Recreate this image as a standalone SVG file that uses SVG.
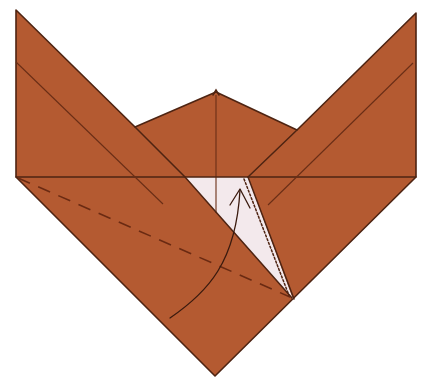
<svg xmlns="http://www.w3.org/2000/svg" width="427" height="382" viewBox="0 0 427 382">
  <style>
    .paper { fill: #b45a31; stroke: #4e2412; stroke-width: 1.6; stroke-linejoin: round; }
    .edge { fill: none; stroke: #4e2412; stroke-width: 1.5; stroke-linecap: round; }
    .crease { fill: none; stroke: #6a2e16; stroke-width: 1.1; }
    .valley { fill: none; stroke: #6a2a12; stroke-width: 1.6; stroke-dasharray: 13 9; }
    .inside { fill: #f3e9ec; stroke: none; }
    .move { fill: none; stroke: #3a1a0e; stroke-width: 1.3; stroke-linecap: round; stroke-linejoin: round; }
  </style>
  <rect width="427" height="382" fill="#ffffff"/>

  <!-- folded model silhouette -->
  <g id="model">
    <polygon class="paper" points="16,10 135,127 216,92 297,130 416,13 416,177 215,376 16,177"/>
  </g>

  <!-- opened pocket showing the paper's white side -->
  <g id="pocket">
    <polygon class="inside" points="185,177 248,177 293,299"/>
  </g>

  <!-- head: centre crease -->
  <g id="head">
    <line class="crease" x1="216" y1="95" x2="216" y2="213"/>
    <path class="edge" d="M213,95 L216,90 L219,95"/>
  </g>

  <!-- horizontal layer edge across the body -->
  <g id="body">
    <line class="edge" x1="16" y1="177" x2="416" y2="177" stroke-width="1.2"/>
  </g>

  <!-- left ear flap -->
  <g id="left-flap">
    <polyline class="edge" points="135,127 185,177 292,298"/>
    <line class="crease" x1="16" y1="62" x2="163" y2="204"/>
  </g>

  <!-- right ear flap -->
  <g id="right-flap">
    <line class="edge" x1="297" y1="130" x2="248" y2="177"/>
    <line class="crease" x1="413" y1="63" x2="268" y2="205"/>
    <line class="edge" x1="248" y1="177" x2="294" y2="299"/>
    <line class="edge" x1="244" y1="179" x2="290" y2="298" stroke-dasharray="2 2" stroke-width="1.4"/>
  </g>

  <g id="connectors">
    <!-- valley fold line -->
    <line class="valley" x1="18" y1="178" x2="290" y2="297"/>
    <!-- fold-up arrow -->
    <path class="move" d="M170,318 C208,292 236,262 240,190"/>
    <path class="move" d="M230,205 L240,189 L250,208"/>
  </g>
</svg>
